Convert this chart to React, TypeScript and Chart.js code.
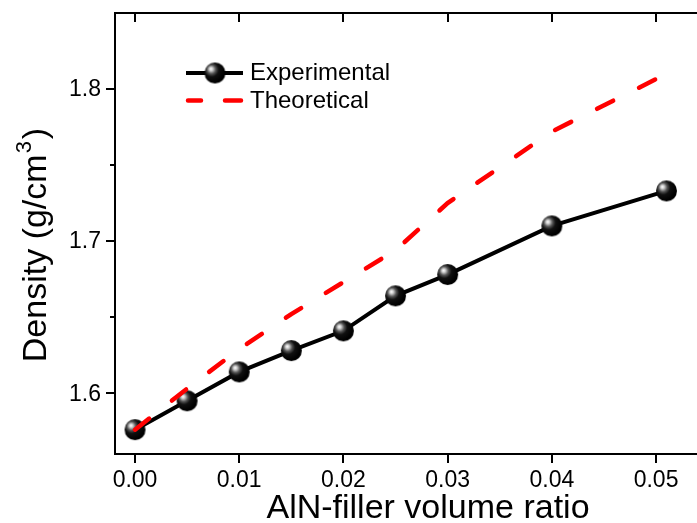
import React, { useEffect, useRef } from "react";
import { Chart, registerables } from "chart.js";

Chart.register(...registerables);

// ---- data ----
const volumeRatio = [0, 0.005, 0.01, 0.015, 0.02, 0.025, 0.03, 0.04, 0.051];
const experimentalDensity = [1.576, 1.595, 1.614, 1.628, 1.641, 1.664, 1.678, 1.71, 1.733];
const theoreticalDensity = [1.576, 1.603, 1.629, 1.652, 1.673, 1.694, 1.725, 1.772, 1.81];
const xTickValues = [0, 0.01, 0.02, 0.03, 0.04, 0.05];
const xTickLabels = ["0.00", "0.01", "0.02", "0.03", "0.04", "0.05"];
const yTickValues = [1.6, 1.7, 1.8];
const yTickLabels = ["1.6", "1.7", "1.8"];
const yMinorTickValues = [1.65, 1.75];
const seriesLabels = ["Experimental", "Theoretical"];
const xAxisTitle = "AlN-filler volume ratio";
const yAxisTitleMain = "Density (g/cm";
const yAxisTitleSup = "3";
const yAxisTitleEnd = ")";

const FONT = '"Liberation Sans", Arial, Helvetica, sans-serif';

function makeSphere(r: number): HTMLCanvasElement {
  const s = Math.ceil(r * 2 + 2);
  const c = document.createElement("canvas");
  c.width = s;
  c.height = s;
  const g = c.getContext("2d")!;
  const cx = s / 2;
  const cy = s / 2;
  const grad = g.createRadialGradient(cx - r * 0.4, cy - r * 0.4, 0, cx - r * 0.25, cy - r * 0.25, r * 1.15);
  grad.addColorStop(0, "#ffffff");
  grad.addColorStop(0.14, "#d4d4d4");
  grad.addColorStop(0.36, "#555555");
  grad.addColorStop(0.58, "#101010");
  grad.addColorStop(1, "#000000");
  g.fillStyle = grad;
  g.beginPath();
  g.arc(cx, cy, r, 0, Math.PI * 2);
  g.fill();
  return c;
}

export default function App() {
  const ref = useRef<HTMLCanvasElement | null>(null);

  useEffect(() => {
    if (!ref.current) return;
    const sphere = makeSphere(10.5);

    const decor = {
      id: "decor",
      afterDraw(chart: any) {
        const ctx = chart.ctx as CanvasRenderingContext2D;
        const { left, right, top, bottom } = chart.chartArea;
        const xs = chart.scales.x;
        const ys = chart.scales.y;
        ctx.save();
        ctx.strokeStyle = "#000";
        ctx.lineWidth = 2;
        ctx.lineCap = "butt";
        // frame (left, top, bottom)
        ctx.beginPath();
        ctx.moveTo(right + 2, top);
        ctx.lineTo(left, top);
        ctx.lineTo(left, bottom);
        ctx.lineTo(right + 2, bottom);
        ctx.stroke();
        // ticks
        ctx.beginPath();
        for (const v of xTickValues) {
          const px = Math.round(xs.getPixelForValue(v));
          ctx.moveTo(px, bottom);
          ctx.lineTo(px, bottom + 9);
          ctx.moveTo(px, top);
          ctx.lineTo(px, top + 9);
        }
        for (const v of yTickValues) {
          const py = Math.round(ys.getPixelForValue(v));
          ctx.moveTo(left, py);
          ctx.lineTo(left - 9, py);
        }
        for (const v of yMinorTickValues) {
          const py = Math.round(ys.getPixelForValue(v));
          ctx.moveTo(left, py);
          ctx.lineTo(left - 5, py);
        }
        ctx.stroke();

        // tick labels
        ctx.fillStyle = "#000";
        ctx.font = `23px ${FONT}`;
        ctx.textAlign = "center";
        ctx.textBaseline = "alphabetic";
        xTickValues.forEach((v, i) => {
          ctx.fillText(xTickLabels[i], xs.getPixelForValue(v), 487);
        });
        ctx.textAlign = "right";
        ctx.textBaseline = "middle";
        yTickValues.forEach((v, i) => {
          ctx.fillText(yTickLabels[i], 101, ys.getPixelForValue(v) + 1);
        });

        // x title
        ctx.font = `34px ${FONT}`;
        ctx.textAlign = "center";
        ctx.textBaseline = "alphabetic";
        ctx.fillText(xAxisTitle, 428, 518);

        // y title with superscript
        ctx.save();
        ctx.translate(46, 245);
        ctx.rotate(-Math.PI / 2);
        ctx.textAlign = "left";
        ctx.font = `34px ${FONT}`;
        const w1 = ctx.measureText(yAxisTitleMain).width;
        const w3 = ctx.measureText(yAxisTitleEnd).width;
        ctx.font = `22px ${FONT}`;
        const w2 = ctx.measureText(yAxisTitleSup).width;
        const x0 = -(w1 + w2 + 3 + w3) / 2;
        ctx.font = `34px ${FONT}`;
        ctx.fillText(yAxisTitleMain, x0, 0);
        ctx.font = `22px ${FONT}`;
        ctx.fillText(yAxisTitleSup, x0 + w1 + 1, -15);
        ctx.font = `34px ${FONT}`;
        ctx.fillText(yAxisTitleEnd, x0 + w1 + w2 + 3, 0);
        ctx.restore();

        // legend
        ctx.strokeStyle = "#000";
        ctx.lineWidth = 4;
        ctx.beginPath();
        ctx.moveTo(186, 73);
        ctx.lineTo(243, 73);
        ctx.stroke();
        ctx.drawImage(sphere, 215 - sphere.width / 2, 73 - sphere.height / 2);
        ctx.strokeStyle = "#ff0000";
        ctx.lineWidth = 4.5;
        ctx.lineCap = "round";
        ctx.beginPath();
        ctx.moveTo(188, 100.5);
        ctx.lineTo(201, 100.5);
        ctx.moveTo(225, 100.5);
        ctx.lineTo(241, 100.5);
        ctx.stroke();
        ctx.fillStyle = "#000";
        ctx.font = `24px ${FONT}`;
        ctx.textAlign = "left";
        ctx.textBaseline = "alphabetic";
        ctx.fillText(seriesLabels[0], 250, 80);
        ctx.fillText(seriesLabels[1], 250, 108);
        ctx.restore();
      },
    };

    const chart = new Chart(ref.current, {
      type: "line",
      data: {
        datasets: [
          {
            label: seriesLabels[1],
            data: volumeRatio.map((x, i) => ({ x, y: theoreticalDensity[i] })),
            borderColor: "#ff0000",
            borderWidth: 4.5,
            borderDash: [18, 29],
            borderCapStyle: "round",
            pointRadius: 0,
            tension: 0,
            fill: false,
            order: 0,
          },
          {
            label: seriesLabels[0],
            data: volumeRatio.map((x, i) => ({ x, y: experimentalDensity[i] })),
            borderColor: "#000000",
            borderWidth: 4,
            pointStyle: sphere as any,
            pointRadius: 10,
            tension: 0,
            fill: false,
            order: 1,
          },
        ],
      },
      options: {
        animation: false,
        responsive: false,
        maintainAspectRatio: false,
        layout: { autoPadding: false, padding: { top: 13, right: 0, left: 0, bottom: 0 } },
        plugins: { legend: { display: false }, tooltip: { enabled: false } },
        scales: {
          x: {
            type: "linear",
            min: -0.00192,
            max: 0.05393,
            grid: { display: false, drawTicks: false },
            border: { display: false },
            afterBuildTicks: (s: any) => {
              s.ticks = xTickValues.map((v) => ({ value: v }));
            },
            afterFit: (s: any) => {
              s.height = 69;
            },
            ticks: { display: false },
          },
          y: {
            type: "linear",
            min: 1.56,
            max: 1.85,
            grid: { display: false, drawTicks: false },
            border: { display: false },
            afterBuildTicks: (s: any) => {
              s.ticks = yTickValues.map((v) => ({ value: v }));
            },
            afterFit: (s: any) => {
              s.width = 115;
            },
            ticks: { display: false },
          },
        },
      },
      plugins: [decor],
    });
    return () => chart.destroy();
  }, []);

  return (
    <div style={{ position: "fixed", left: 0, top: 0, width: 697, height: 523, overflow: "hidden", background: "#fff" }}>
      <canvas ref={ref} width={697} height={523} style={{ display: "block" }} />
    </div>
  );
}
